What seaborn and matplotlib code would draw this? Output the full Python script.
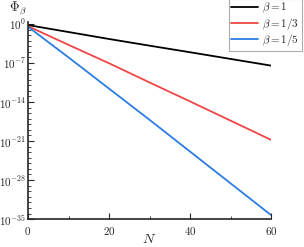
import seaborn as sns
import matplotlib.pyplot as plt
import matplotlib.ticker as mticker
import numpy as np
import pandas as pd

N = [0, 10, 20, 30, 40, 50, 60]
# log10 of Phi_beta
log_phi_1 = [-0.2, -1.45, -2.7, -3.9, -5.08, -6.28, -7.48]
log_phi_13 = [-0.4, -3.75, -7.05, -10.5, -13.9, -17.35, -20.8]
log_phi_15 = [-0.5, -6.0, -11.6, -17.2, -22.9, -28.6, -34.3]
labels = [r'$\beta = 1$', r'$\beta = 1/3$', r'$\beta = 1/5$']

df = pd.DataFrame({
    'N': N * 3,
    'phi': 10.0 ** np.array(log_phi_1 + log_phi_13 + log_phi_15),
    'beta': [labels[0]] * 7 + [labels[1]] * 7 + [labels[2]] * 7,
})

sns.set_style('ticks')
plt.rcParams['font.family'] = ['DejaVu Serif']
plt.rcParams['mathtext.fontset'] = 'cm'

fig = plt.figure(figsize=(3.04, 2.47), dpi=100)
ax = fig.add_axes([0.092, 0.113, 0.8, 0.798])

sns.lineplot(data=df, x='N', y='phi', hue='beta', hue_order=labels,
             palette=['black', '#f04545', '#2a7de1'], linewidth=1.3, ax=ax)

ax.set_yscale('log')
ax.set_xlim(0, 60)
ax.set_ylim(1e-35, 10 ** 0.35)
ax.yaxis.set_major_locator(mticker.FixedLocator([10.0 ** e for e in range(0, -36, -7)]))
ax.yaxis.set_minor_locator(mticker.FixedLocator([10.0 ** e for e in range(0, -36, -1)]))
ax.yaxis.set_major_formatter(mticker.FuncFormatter(lambda v, p: r'$10^{%d}$' % round(np.log10(v))))
ax.yaxis.set_minor_formatter(mticker.NullFormatter())
ax.xaxis.set_major_locator(mticker.FixedLocator([0, 20, 40, 60]))
ax.xaxis.set_minor_locator(mticker.FixedLocator([10, 30, 50]))
ax.xaxis.set_major_formatter(mticker.FuncFormatter(lambda v, p: r'$%d$' % v))
ax.tick_params(which='major', direction='in', length=4, width=0.8, labelsize=8)
ax.tick_params(which='minor', direction='in', length=2, width=0.6)
ax.tick_params(axis='y', pad=1.5)
ax.tick_params(axis='x', pad=4)
sns.despine(ax=ax)
for s in ['left', 'bottom']:
    ax.spines[s].set_linewidth(1.2)

ax.set_xlabel(r'$N$', fontsize=10, labelpad=-3)
ax.set_ylabel('')
fig.text(0.06, 0.968, r'$\mathbf{\Phi}_\beta$', fontsize=9.5, ha='center', va='center')

leg = ax.legend(loc='upper right', bbox_to_anchor=(1.125, 1.118), fontsize=8,
                frameon=True, fancybox=False, edgecolor='#999999',
                borderpad=0.2, labelspacing=0.05, handlelength=2.4,
                handletextpad=0.4, borderaxespad=0)
leg.get_frame().set_linewidth(0.8)

fig.savefig('out.png', dpi=100)
